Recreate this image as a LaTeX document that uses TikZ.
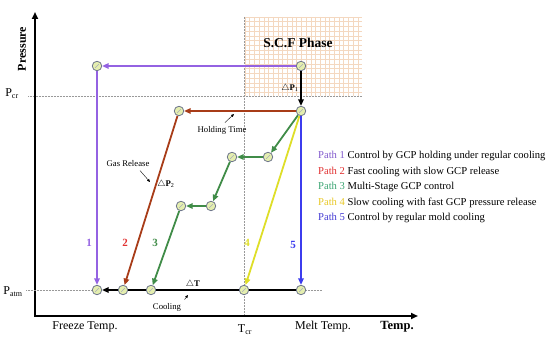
\documentclass[tikz,border=0pt]{standalone}
\usepackage{fontspec}
\setmainfont{Liberation Serif}
\usetikzlibrary{arrows.meta,positioning}
\definecolor{pathone}{RGB}{148,98,226}
\definecolor{pathtwo}{RGB}{168,60,24}
\definecolor{paththree}{RGB}{64,140,72}
\definecolor{pathfour}{RGB}{222,222,40}
\definecolor{pathfive}{RGB}{60,60,238}
\definecolor{legone}{RGB}{130,90,205}
\definecolor{legtwo}{RGB}{225,50,50}
\definecolor{legthree}{RGB}{60,165,115}
\definecolor{legfour}{RGB}{232,200,40}
\definecolor{legfive}{RGB}{70,60,212}
\definecolor{statefill}{RGB}{228,238,175}
\definecolor{stateline}{RGB}{110,118,140}
\definecolor{gridpeach}{RGB}{244,216,192}
\begin{document}
\begin{tikzpicture}[
    x=1pt, y=-1pt,
    every node/.style={font=\fontsize{10}{12}\selectfont},
    st/.style={draw=stateline,fill=statefill,circle,minimum size=9.5pt,inner sep=0pt,line width=0.8pt,
      path picture={\draw[stateline!60,line width=0.4pt] (path picture bounding box.center) ++(-1.8pt,-1.8pt) -- ++(3.6pt,3.6pt);}},
    flow/.style={line width=1.8pt,-{Triangle[length=6.5pt,width=5.5pt]}},
    axis/.style={line width=1.8pt},
    guide/.style={densely dotted,draw=gray!80,line width=0.5pt},
    note/.style={font=\fontsize{8.7}{10}\selectfont},
    pin/.style={-{Triangle[length=3pt,width=2.5pt]},line width=0.4pt},
    num/.style={font=\fontsize{11}{13}\selectfont\bfseries},
    legend/.style={anchor=west,inner sep=0pt,font=\fontsize{10.6}{12}\selectfont}
  ]
  \useasboundingbox (0,0) rectangle (550,339);
  \foreach \gx in {245,249.7,...,362} \draw[gridpeach,line width=0.5pt] (\gx,17) -- (\gx,96);
  \foreach \gy in {17,21.7,...,96} \draw[gridpeach,line width=0.5pt] (245,\gy) -- (362,\gy);

  \coordinate (o) at (35,316);
  \coordinate (ytip) at (35,12);
  \coordinate (xtip) at (418,316);
  \coordinate (pcrl) at (28,96);
  \coordinate (pcrr) at (362,96);
  \coordinate (tcrt) at (244,17);
  \coordinate (tcrb) at (244,316);
  \coordinate (patml) at (26,290);
  \coordinate (patmr) at (322,290);

  \draw[guide] (pcrl) -- (pcrr);
  \draw[guide] (tcrt) -- (tcrb);
  \draw[axis,{Triangle[length=7pt,width=6pt]}-{Triangle[length=7pt,width=6pt]}] (ytip) -- (o) -- (xtip);

  \node[st] (a) at (301,66) {};
  \node[st] (b) at (301,111) {};
  \node[st] (p1top) at (97,66) {};
  \node[st] (p2top) at (179,111) {};
  \node[st] (g1) at (268,157) {};
  \node[st] (g2) at (232,157) {};
  \node[st] (g3) at (211,206) {};
  \node[st] (g4) at (181,206) {};
  \node[st] (freeze) at (97,290) {};
  \node[st] (bot2) at (123,290) {};
  \node[st] (bot3) at (151,290) {};
  \node[st] (tcr) at (244,290) {};
  \node[st] (melt) at (301,290) {};

  \draw[guide] (patml) -- (freeze);
  \draw[guide] (melt) -- (patmr);

  \draw[flow,pathone] (a) -- (p1top);
  \draw[flow,pathone] (p1top) -- (freeze);
  \draw[flow,black] (a) -- (b);
  \draw[flow,pathtwo] (b) -- (p2top);
  \draw[flow,pathtwo] (p2top) -- (bot2);
  \draw[flow,paththree] (b) -- (g1);
  \draw[flow,paththree] (g1) -- (g2);
  \draw[flow,paththree] (g2) -- (g3);
  \draw[flow,paththree] (g3) -- (g4);
  \draw[flow,paththree] (g4) -- (bot3);
  \draw[flow,pathfour] (b) -- (tcr);
  \draw[flow,pathfive] (b) -- (melt);
  \draw[line width=1.8pt] (melt) -- (tcr);
  \draw[line width=1.8pt] (tcr) -- (bot3);
  \draw[line width=1.8pt] (bot3) -- (bot2);
  \draw[flow,black] (bot2) -- (freeze);

  \node[font=\fontsize{13.5}{15}\selectfont\bfseries] (scf) at (298,43) {S.C.F Phase};
  \node[rotate=90,font=\fontsize{12}{14}\selectfont\bfseries] (ylab) at (22,49) {Pressure};
  \node[font=\fontsize{12.5}{14}\selectfont\bfseries] (xlab) at (397,327) {Temp.};
  \node[font=\fontsize{12}{14}\selectfont] (pcr) at (12,94) {P\textsubscript{cr}};
  \node[font=\fontsize{12}{14}\selectfont] (patm) at (13,292) {P\textsubscript{atm}};
  \node[font=\fontsize{12}{14}\selectfont] (tcrlab) at (245,330) {T\textsubscript{cr}};
  \node[font=\fontsize{12}{14}\selectfont] (freezelab) at (85,327) {Freeze Temp.};
  \node[font=\fontsize{12}{14}\selectfont] (meltlab) at (323,327) {Melt Temp.};

  \node[note] (dp1) at (290,88) {$\triangle$\textbf{P}\textsubscript{1}};
  \node[note] (dp2) at (166,184) {$\triangle$\textbf{P}\textsubscript{2}};
  \node[note] (dt) at (193,284) {$\triangle$\textbf{T}};
  \node[note] (hold) at (222,130) {Holding Time};
  \node[note] (gas) at (128,164) {Gas Release};
  \node[note] (cool) at (167,307) {Cooling};
  \coordinate (holdtip) at (234,114);
  \coordinate (gastip) at (150,182);
  \coordinate (cooltip) at (188,295);
  \draw[pin] (hold.north) ++(3,0) -- (holdtip);
  \draw[pin] (gas.south) ++(12,0) -- (gastip);
  \draw[pin] (cool.north east) -- (cooltip);

  \node[num,pathone] (n1) at (89,243) {1};
  \node[num,legtwo] (n2) at (125,243) {2};
  \node[num,paththree] (n3) at (155,243) {3};
  \node[num,pathfour] (n4) at (247,243) {4};
  \node[num,pathfive] (n5) at (293,245) {5};

  \node[legend] (l1) at (318,156) {{\color{legone}Path 1} Control by GCP holding under regular cooling};
  \node[legend] (l2) at (318,171.5) {{\color{legtwo}Path 2} Fast cooling with slow GCP release};
  \node[legend] (l3) at (318,187) {{\color{legthree}Path 3} Multi-Stage GCP control};
  \node[legend] (l4) at (318,202.5) {{\color{legfour}Path 4} Slow cooling with fast GCP pressure release};
  \node[legend] (l5) at (318,218) {{\color{legfive}Path 5} Control by regular mold cooling};
\end{tikzpicture}
\end{document}
